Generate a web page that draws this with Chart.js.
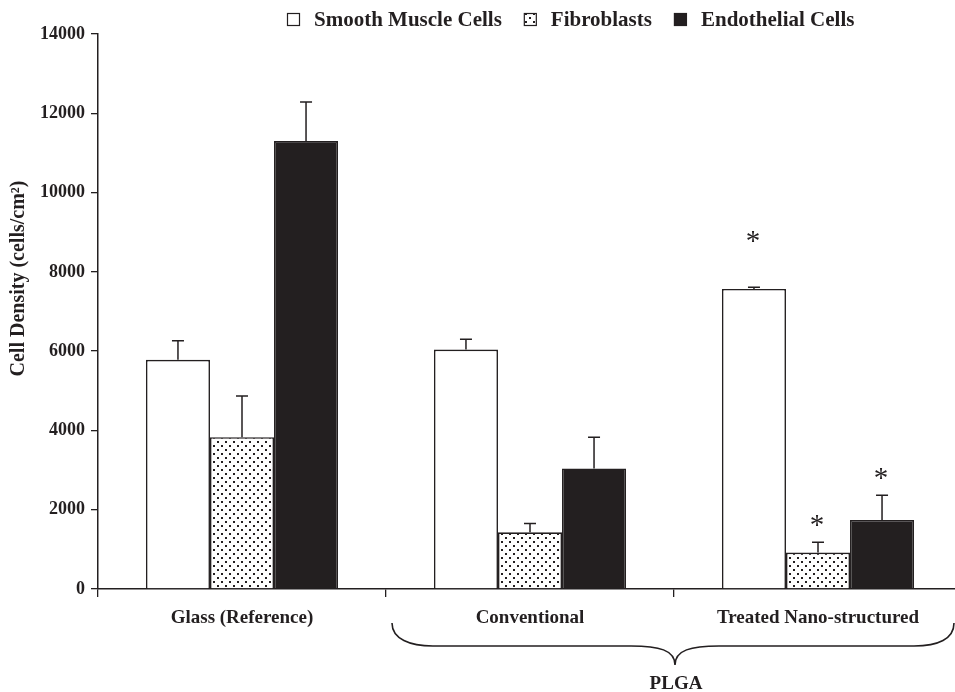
<!DOCTYPE html>
<html>
<head>
<meta charset="utf-8">
<script src="https://cdn.jsdelivr.net/npm/chart.js@4.4.0/dist/chart.umd.min.js"></script>
<style>
  html, body { margin: 0; padding: 0; background: #fff; overflow: hidden; }
  #wrap { width: 980px; height: 692px; }
</style>
</head>
<body>
<div id="wrap"><canvas id="cellChart" width="980" height="692"></canvas></div>
<script>
const categories = ["Glass (Reference)", "Conventional", "Treated Nano-structured"];
const smcValues = [5780, 6040, 7570];
const smcErrors = [480, 260, 40];
const fibroValues = [3830, 1430, 920];
const fibroErrors = [1040, 225, 260];
const endoValues = [11300, 3040, 1740];
const endoErrors = [985, 785, 625];
// height at which the significance stars sit (null = no star)
const smcStars = [null, null, 8830];
const fibroStars = [null, null, 1660];
const endoStars = [null, null, 2860];
const yTickLabels = ["0", "2000", "4000", "6000", "8000", "10000", "12000", "14000"];
const groupLabel = "PLGA";
const yTitle = "Cell Density (cells/cm\u00B2)";

const ink = "#231f20";
const serif = "'Liberation Serif', 'Times New Roman', serif";

function dotPattern() {
  const c = document.createElement("canvas");
  c.width = 8;
  c.height = 8;
  const g = c.getContext("2d");
  g.fillStyle = "#fff";
  g.fillRect(0, 0, 8, 8);
  g.fillStyle = ink;
  g.fillRect(1, 1, 2, 2);
  g.fillRect(5, 5, 2, 2);
  return g.createPattern(c, "repeat");
}

const errorBars = {
  id: "errorBars",
  afterDatasetsDraw(chart) {
    const ctx = chart.ctx;
    const y = chart.scales.y;
    ctx.save();
    ctx.strokeStyle = ink;
    ctx.lineWidth = 1.5;
    chart.data.datasets.forEach((ds, i) => {
      chart.getDatasetMeta(i).data.forEach((bar, j) => {
        const top = y.getPixelForValue(ds.data[j] + ds.errors[j]);
        ctx.beginPath();
        ctx.moveTo(bar.x, bar.y);
        ctx.lineTo(bar.x, top);
        ctx.moveTo(bar.x - 6, top);
        ctx.lineTo(bar.x + 6, top);
        ctx.stroke();
        if (ds.stars[j] != null) {
          ctx.fillStyle = ink;
          ctx.font = "29px " + serif;
          ctx.textAlign = "center";
          ctx.textBaseline = "alphabetic";
          ctx.fillText("*", bar.x - 1, y.getPixelForValue(ds.stars[j]) + 11);
        }
      });
    });
    ctx.restore();
  }
};

const extras = {
  id: "extras",
  afterDraw(chart) {
    const ctx = chart.ctx;
    const xs = chart.scales.x;
    const area = chart.chartArea;
    ctx.save();

    // legend
    ctx.font = "bold 21px " + serif;
    ctx.textBaseline = "middle";
    ctx.textAlign = "left";
    let lx = 287;
    const ly = 19.5;
    chart.data.datasets.forEach(ds => {
      ctx.fillStyle = ds.backgroundColor;
      ctx.fillRect(lx, ly - 6.5, 13, 13);
      ctx.strokeStyle = ink;
      ctx.lineWidth = 1.2;
      ctx.strokeRect(lx + 0.5, ly - 6, 12, 12);
      lx += 27;
      ctx.fillStyle = ink;
      ctx.fillText(ds.label, lx, ly + 1);
      lx += ctx.measureText(ds.label).width + 22;
    });

    // y title
    ctx.save();
    ctx.translate(19, (area.top + area.bottom) / 2 - 33);
    ctx.rotate(-Math.PI / 2);
    ctx.textAlign = "center";
    ctx.textBaseline = "middle";
    ctx.font = "bold 20px " + serif;
    ctx.fillText(yTitle, 0, 0);
    ctx.restore();

    // brace under the PLGA groups
    const step = xs.getPixelForValue(2) - xs.getPixelForValue(1);
    const left = xs.getPixelForValue(1) - step / 2 + 6;
    const right = xs.getPixelForValue(2) + step / 2 - 8;
    const mid = (left + right) / 2 + 2;
    const b = area.bottom;
    ctx.strokeStyle = ink;
    ctx.lineWidth = 1.6;
    ctx.beginPath();
    ctx.moveTo(left, b + 34);
    ctx.bezierCurveTo(left, b + 50, left + 18, b + 57, left + 41, b + 57);
    ctx.lineTo(mid - 44, b + 57);
    ctx.bezierCurveTo(mid - 16, b + 57, mid, b + 61, mid, b + 76);
    ctx.bezierCurveTo(mid, b + 61, mid + 16, b + 57, mid + 44, b + 57);
    ctx.lineTo(right - 40, b + 57);
    ctx.bezierCurveTo(right - 16, b + 57, right, b + 50, right, b + 34);
    ctx.stroke();

    ctx.fillStyle = ink;
    ctx.font = "bold 19px " + serif;
    ctx.textAlign = "center";
    ctx.textBaseline = "middle";
    ctx.fillText(groupLabel, mid + 1, b + 95);
    ctx.restore();
  }
};

const pattern = dotPattern();

new Chart(document.getElementById("cellChart"), {
  type: "bar",
  data: {
    labels: categories,
    datasets: [
      { label: "Smooth Muscle Cells", data: smcValues, errors: smcErrors, stars: smcStars,
        backgroundColor: "#ffffff", borderColor: ink, borderWidth: 1.6 },
      { label: "Fibroblasts", data: fibroValues, errors: fibroErrors, stars: fibroStars,
        backgroundColor: pattern, borderColor: ink, borderWidth: 1.6 },
      { label: "Endothelial Cells", data: endoValues, errors: endoErrors, stars: endoStars,
        backgroundColor: ink, borderColor: ink, borderWidth: 1.6 }
    ]
  },
  options: {
    responsive: false,
    animation: false,
    categoryPercentage: 0.667,
    barPercentage: 1.0,
    layout: { padding: { top: 34, right: 18, bottom: 0, left: 0 } },
    plugins: {
      legend: { display: false },
      tooltip: { enabled: false }
    },
    scales: {
      x: {
        grid: { drawOnChartArea: false, tickLength: 8, color: ink, lineWidth: 1.3, offset: true },
        border: { color: ink, width: 1.5 },
        ticks: {
          color: ink, padding: 10, maxRotation: 0, autoSkip: false,
          font: { family: serif, size: 19, weight: "bold" }
        },
        afterFit: s => { s.height = 103; }
      },
      y: {
        min: 0,
        max: 14000,
        grid: { drawOnChartArea: false, tickLength: 7, color: ink, lineWidth: 1.3 },
        border: { color: ink, width: 1.5 },
        ticks: {
          stepSize: 2000, color: ink, padding: 6,
          font: { family: serif, size: 18, weight: "bold" },
          callback: v => yTickLabels[Math.round(v / 2000)]
        },
        afterFit: s => { s.width = 98; }
      }
    }
  },
  plugins: [errorBars, extras]
});
</script>
</body>
</html>
